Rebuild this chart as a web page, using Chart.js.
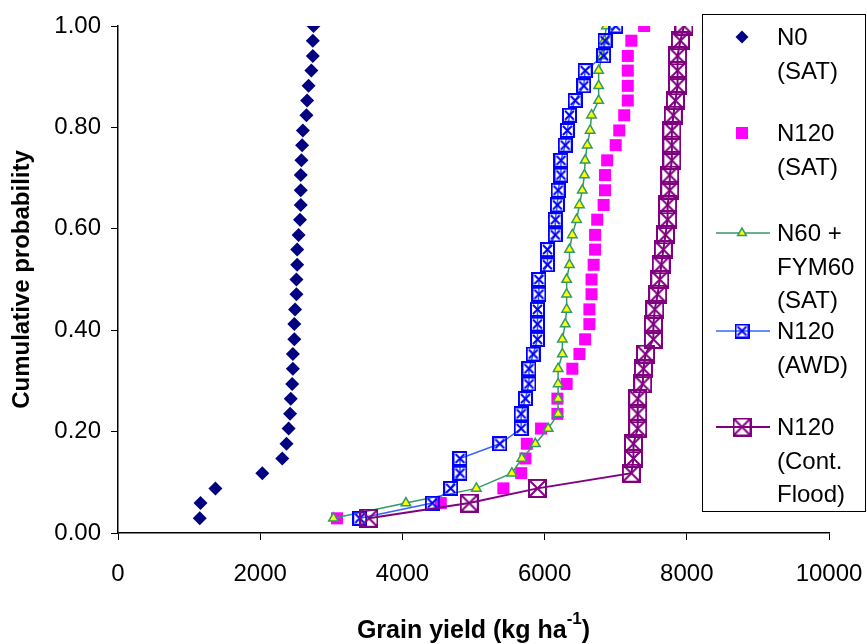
<!DOCTYPE html>
<html lang="en">
<head>
<meta charset="UTF-8">
<title>Cumulative probability of grain yield</title>
<script src="https://cdn.jsdelivr.net/npm/chart.js"></script>
<style>
  html, body { margin: 0; padding: 0; background: #fff; }
  #wrap { width: 867px; height: 644px; position: relative; }
</style>
</head>
<body>
<div id="wrap"><canvas id="yieldChart" width="867" height="644"></canvas></div>
<script>
// cumulative probability of each ranked season (34 seasons)
const probability = [0.029, 0.059, 0.088, 0.118, 0.147, 0.176, 0.206, 0.235, 0.265, 0.294,
                     0.324, 0.353, 0.382, 0.412, 0.441, 0.471, 0.500, 0.529, 0.559, 0.588,
                     0.618, 0.647, 0.676, 0.706, 0.735, 0.765, 0.794, 0.824, 0.853, 0.882,
                     0.912, 0.941, 0.971, 1.000];

// simulated grain yield, kg/ha, sorted ascending
const n0Sat = [1150, 1160, 1370, 2030, 2310, 2370, 2400, 2420, 2430, 2450,
               2460, 2460, 2480, 2480, 2490, 2510, 2510, 2520, 2520, 2540,
               2560, 2570, 2570, 2570, 2580, 2590, 2600, 2650, 2660, 2680,
               2720, 2740, 2740, 2750];
const n120Sat = [3080, 4540, 5420, 5670, 5730, 5750, 5950, 6180, 6180, 6310,
                 6390, 6490, 6570, 6630, 6630, 6660, 6660, 6690, 6710, 6710,
                 6740, 6830, 6850, 6850, 6880, 7000, 7050, 7120, 7170, 7170,
                 7170, 7170, 7220, 7400];
const n60Fym60Sat = [3030, 4050, 5040, 5540, 5680, 5870, 6050, 6190, 6190, 6190,
                     6190, 6250, 6250, 6290, 6310, 6310, 6310, 6350, 6350, 6390,
                     6450, 6490, 6530, 6560, 6570, 6600, 6640, 6660, 6760, 6760,
                     6760, 6810, 6840, 6870];
const n120Awd = [3400, 4420, 4680, 4810, 4810, 5370, 5670, 5670, 5730, 5780,
                 5780, 5840, 5900, 5900, 5900, 5920, 5920, 6040, 6040, 6150,
                 6150, 6180, 6190, 6230, 6230, 6290, 6320, 6350, 6430, 6550,
                 6570, 6830, 6850, 7000];
const n120Flood = [3530, 4940, 5900, 7220, 7250, 7250, 7310, 7310, 7310, 7380,
                   7390, 7420, 7530, 7530, 7550, 7590, 7620, 7640, 7670, 7700,
                   7730, 7730, 7760, 7760, 7790, 7790, 7790, 7810, 7840, 7870,
                   7870, 7870, 7910, 7960];

const xTicks = [0, 2000, 4000, 6000, 8000, 10000];
const yTicks = [0, 0.2, 0.4, 0.6, 0.8, 1.0];
const seriesLabels = [['N0', '(SAT)'], ['N120', '(SAT)'], ['N60 +', 'FYM60', '(SAT)'],
                      ['N120', '(AWD)'], ['N120', '(Cont.', 'Flood)']];

const FONT = '"Liberation Sans", Arial, sans-serif';

function toPoints(yields) {
    return yields.map((v, i) => ({ x: v, y: probability[i] }));
}

// square outline with a cross through it
function boxCross(size, color, lw, inset) {
    const c = document.createElement('canvas');
    c.width = size;
    c.height = size;
    const g = c.getContext('2d');
    g.strokeStyle = color;
    g.lineWidth = lw;
    const h = lw / 2;
    g.strokeRect(h, h, size - lw, size - lw);
    g.beginPath();
    g.moveTo(inset, inset);
    g.lineTo(size - inset, size - inset);
    g.moveTo(size - inset, inset);
    g.lineTo(inset, size - inset);
    g.stroke();
    return c;
}

const awdMarker = boxCross(15, '#0000FF', 2, 3);
const floodMarker = boxCross(19, '#800080', 2, 2);

const datasets = [
    {
        label: 'N0 (SAT)', data: toPoints(n0Sat), order: 5, showLine: false,
        pointStyle: 'rectRot', pointRadius: 7, pointHoverRadius: 7,
        backgroundColor: '#000080', borderColor: '#000080', borderWidth: 0
    },
    {
        label: 'N120 (SAT)', data: toPoints(n120Sat), order: 4, showLine: false,
        pointStyle: 'rect', pointRadius: 8.5, pointHoverRadius: 8.5,
        backgroundColor: '#FF00FF', borderColor: '#FF00FF', borderWidth: 0
    },
    {
        label: 'N60 + FYM60 (SAT)', data: toPoints(n60Fym60Sat), order: 3, showLine: true,
        borderColor: '#339966', borderWidth: 1.5, backgroundColor: '#FFFF00',
        pointStyle: 'triangle', pointRadius: 5.5, pointHoverRadius: 5.5,
        pointBackgroundColor: '#FFFF00', pointBorderColor: '#339966', pointBorderWidth: 1.5
    },
    {
        label: 'N120 (AWD)', data: toPoints(n120Awd), order: 2, showLine: true,
        borderColor: '#3366FF', borderWidth: 1.5, backgroundColor: '#3366FF',
        pointStyle: awdMarker, pointRadius: 7
    },
    {
        label: 'N120 (Cont. Flood)', data: toPoints(n120Flood), order: 1, showLine: true,
        borderColor: '#800080', borderWidth: 2, backgroundColor: '#800080',
        pointStyle: floodMarker, pointRadius: 9
    }
];

// legend box on the right, drawn over the plot
const boxLegend = {
    id: 'boxLegend',
    afterDraw(chart) {
        const ctx = chart.ctx;
        ctx.save();
        ctx.fillStyle = '#fff';
        ctx.fillRect(702.5, 14.5, 163, 497);
        ctx.strokeStyle = '#000';
        ctx.lineWidth = 1;
        ctx.strokeRect(702.5, 14.5, 163, 497);

        const rows = [[37, 71], [133, 167], [233, 267, 300], [331, 365], [427, 461, 494]];
        const mx = 742;
        ctx.font = '24px ' + FONT;
        ctx.fillStyle = '#000';
        ctx.textBaseline = 'middle';
        rows.forEach((ys, k) => {
            seriesLabels[k].forEach((t, j) => ctx.fillText(t, 777, ys[j] + 1));
        });

        const H = Chart.helpers;
        // N0
        ctx.fillStyle = '#000080';
        H.drawPoint(ctx, { pointStyle: 'rectRot', radius: 6.5, borderWidth: 0, rotation: 0 }, mx, rows[0][0]);
        // N120 SAT
        ctx.fillStyle = '#FF00FF';
        ctx.fillRect(mx - 6, rows[1][0] - 6, 12, 12);
        // line samples
        const lines = [[2, '#339966', 1.5], [3, '#3366FF', 1.5], [4, '#800080', 2]];
        lines.forEach(([k, col, w]) => {
            ctx.strokeStyle = col;
            ctx.lineWidth = w;
            ctx.beginPath();
            ctx.moveTo(716, rows[k][0]);
            ctx.lineTo(770, rows[k][0]);
            ctx.stroke();
        });
        ctx.fillStyle = '#FFFF00';
        ctx.strokeStyle = '#339966';
        ctx.lineWidth = 1.5;
        H.drawPoint(ctx, { pointStyle: 'triangle', radius: 5, borderWidth: 1.5, rotation: 0 }, mx, rows[2][0]);
        H.drawPoint(ctx, { pointStyle: awdMarker, radius: 7, borderWidth: 0, rotation: 0 }, mx, rows[3][0]);
        H.drawPoint(ctx, { pointStyle: floodMarker, radius: 9, borderWidth: 0, rotation: 0 }, mx, rows[4][0]);
        ctx.restore();
    }
};

// axis titles, with the superscript unit on the x title
const axisTitles = {
    id: 'axisTitles',
    afterDraw(chart) {
        const ctx = chart.ctx;
        const area = chart.chartArea;
        ctx.save();
        ctx.fillStyle = '#000';
        ctx.textBaseline = 'alphabetic';

        const main = 'Grain yield (kg ha';
        const tail = ')';
        ctx.font = 'bold 25px ' + FONT;
        const w1 = ctx.measureText(main).width;
        const w3 = ctx.measureText(tail).width;
        ctx.font = 'bold 17px ' + FONT;
        const w2 = ctx.measureText('-1').width;
        const x = (area.left + area.right) / 2 - (w1 + w2 + w3) / 2;
        const base = 638;
        ctx.textAlign = 'left';
        ctx.font = 'bold 25px ' + FONT;
        ctx.fillText(main, x, base);
        ctx.font = 'bold 17px ' + FONT;
        ctx.fillText('-1', x + w1, base - 14);
        ctx.font = 'bold 25px ' + FONT;
        ctx.fillText(tail, x + w1 + w2, base);

        ctx.translate(22, (area.top + area.bottom) / 2);
        ctx.rotate(-Math.PI / 2);
        ctx.textAlign = 'center';
        ctx.textBaseline = 'middle';
        ctx.font = 'bold 24px ' + FONT;
        ctx.fillText('Cumulative probability', 0, 0);
        ctx.restore();
    }
};

const ctx = document.getElementById('yieldChart').getContext('2d');
new Chart(ctx, {
    type: 'scatter',
    data: { datasets: datasets },
    options: {
        responsive: false,
        animation: false,
        events: [],
        layout: { padding: { top: 26, right: 38, left: 0, bottom: 0 } },
        plugins: {
            legend: { display: false },
            tooltip: { enabled: false }
        },
        scales: {
            x: {
                type: 'linear',
                min: 0,
                max: 10000,
                afterBuildTicks: s => { s.ticks = xTicks.map(v => ({ value: v })); },
                afterFit: s => { s.height = 111; s.paddingLeft = 0; s.paddingRight = 0; },
                grid: { display: true, drawOnChartArea: false, drawTicks: true, tickLength: 7, color: '#000', lineWidth: 1 },
                border: { display: true, color: '#000', width: 1.5 },
                ticks: {
                    color: '#000', font: { family: FONT, size: 24 }, padding: 20, maxRotation: 0,
                    callback: v => String(v)
                }
            },
            y: {
                type: 'linear',
                min: 0,
                max: 1,
                afterBuildTicks: s => { s.ticks = yTicks.map(v => ({ value: v })); },
                afterFit: s => { s.width = 118; s.paddingTop = 0; s.paddingBottom = 0; },
                grid: { display: true, drawOnChartArea: false, drawTicks: true, tickLength: 7, color: '#000', lineWidth: 1 },
                border: { display: true, color: '#000', width: 1.5 },
                ticks: {
                    color: '#000', font: { family: FONT, size: 24 }, padding: 10,
                    callback: v => v.toFixed(2)
                }
            }
        }
    },
    plugins: [axisTitles, boxLegend]
});
</script>
</body>
</html>
